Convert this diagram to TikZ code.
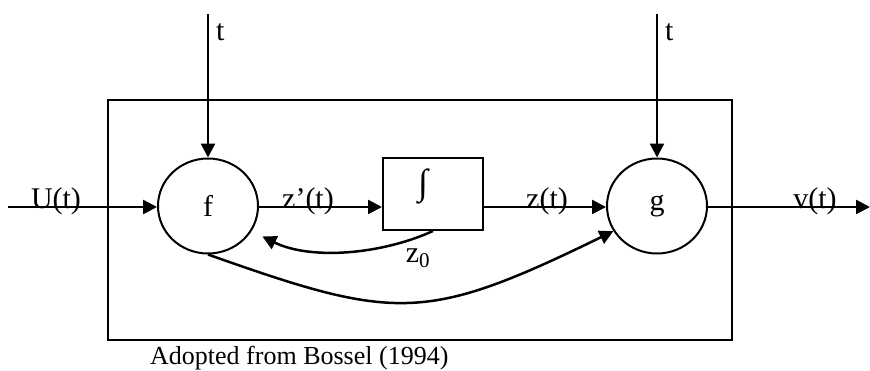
\documentclass[tikz,border=0pt]{standalone}
\usepackage{fontspec}
\setmainfont{Liberation Serif}
\usetikzlibrary{positioning,shapes.geometric,arrows.meta}
\tikzset{%
  blk/.style={draw,ellipse,minimum width=100pt,minimum height=95pt,inner sep=0pt,line width=2pt},
  intbox/.style={draw,minimum width=100pt,minimum height=72pt,inner sep=0pt,line width=2pt},
  sig/.style={line width=2.5pt,-{Triangle[length=14pt,width=14pt]}},
  lbl/.style={font=\fontsize{30}{32}\selectfont,inner sep=0pt},
  srcnote/.style={font=\fontsize{26}{28}\selectfont,inner sep=0pt}
}

\begin{document}
\begin{tikzpicture}[x=1pt,y=-1pt]
  \useasboundingbox (0,0) rectangle (870,370);

  % system boundary
  \draw[line width=2.5pt] (108,100) rectangle (732,340);

  \node[blk,lbl] (f) at (208,206) {f};
  \node[blk,lbl] (g) at (657,206) {g};
  \node[intbox] (int) at (433,194) {};
  \node[lbl,font=\fontsize{36}{38}\selectfont] (intsym) at (423,186) {∫};

  \coordinate (tf) at (208,14);
  \coordinate (tg) at (657,14);
  \coordinate (uin) at (8,207);
  \coordinate (vout) at (870,207);

  \draw[sig] (tf) -- (f);
  \draw[sig] (tg) -- (g);
  \draw[sig] (uin) -- (f.west |- uin);
  \draw[sig] (f.east |- uin) -- (int.west |- uin);
  \draw[sig] (int.east |- uin) -- (g.west |- uin);
  \draw[sig] (g.east |- uin) -- (vout);

  % initial value and direct path
  \draw[sig,shorten >=12pt] (int.south) .. controls (380,255) and (310,260) .. (f.-30);
  \draw[sig] (f.south) .. controls (396,321) and (425,323) .. (g.-150);

  \node[lbl,right=8pt of tf,yshift=-18pt] (tlf) {t};
  \node[lbl,right=8pt of tg,yshift=-18pt] (tlg) {t};
  \node[lbl,anchor=base] (ulbl) at (56,208) {U(t)};
  \node[lbl,anchor=base] (dzlbl) at (308,208) {z’(t)};
  \node[lbl,anchor=base] (zlbl) at (547,208) {z(t)};
  \node[lbl,anchor=base] (vlbl) at (815,208) {v(t)};
  \node[lbl,anchor=base] (z0lbl) at (418,262) {z\textsubscript{0}};

  \node[srcnote,anchor=base west] (src) at (150,364) {Adopted from Bossel (1994)};
\end{tikzpicture}
\end{document}
